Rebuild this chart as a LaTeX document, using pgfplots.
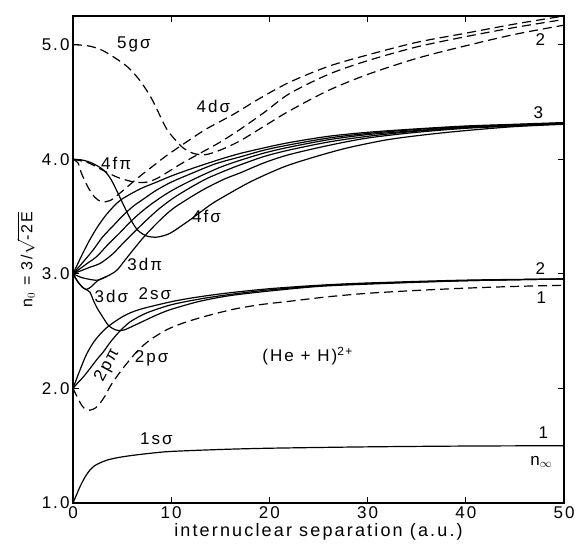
\documentclass[border=0pt]{standalone}
\usepackage{pgfplots}
\pgfplotsset{compat=1.18}
\usepackage{fontspec}
\setmainfont{Liberation Sans}[LetterSpace=12]
\newcommand{\lf}{\fontsize{17bp}{18bp}\selectfont}
\begin{document}
\begin{tikzpicture}
\useasboundingbox (-73bp,-45bp) rectangle (504bp,503bp);
\begin{axis}[at={(0,0)},anchor=south west, scale only axis,
 width=491bp, height=487bp,
 xmin=0, xmax=50, ymin=1, ymax=5.25,
 xtick={0,10,...,50}, ytick={1,2,3,4,5},
 xtick pos=both, ytick pos=both,
 y tick label style={/pgf/number format/.cd, fixed, fixed zerofill, precision=1, /tikz/.cd},
 /pgf/number format/assume math mode=true,
 tick align=inside, major tick length=6bp,
 tick style={line width=1bp, black},
 axis line style={line width=1.4bp},
 ticklabel style={font=\lf},
 xlabel={internuclear separation (a.u.)},
 xlabel style={font=\fontsize{18bp}{19bp}\selectfont, yshift=2bp},
 ylabel={n$_0$ = 3/$\sqrt{\mbox{-2E}}$},
 ylabel style={font=\fontsize{16bp}{17bp}\selectfont},
 cycle list={{black, solid, mark=none}},
 every axis plot/.append style={line width=1.2bp, black, smooth, mark=none},
 clip=false,
]
% 1s sigma
\addplot coordinates {(0,1.0)(0.35,1.07)(0.7,1.14)(1.05,1.2)(1.4,1.25)(1.75,1.29)(2.2,1.325)(2.75,1.35)(3.5,1.375)(4.5,1.395)(6,1.415)(8,1.435)(10,1.45)(15,1.467)(20,1.478)(30,1.49)(40,1.497)(50,1.50)};
% 2p sigma dashed
\addplot[dash pattern=on 9bp off 5bp] coordinates {(0,2.0)(0.35,1.94)(0.7,1.88)(1.1,1.83)(1.7,1.81)(2.3,1.83)(2.75,1.87)(3.3,1.94)(3.8,2.02)(4.6,2.12)(5.5,2.22)(6.6,2.33)(7.8,2.42)(9.5,2.51)(11.2,2.57)(13.5,2.63)(16.3,2.69)(19,2.73)(22,2.76)(26,2.80)(30,2.83)(35,2.855)(40,2.875)(45,2.89)(50,2.90)};
% 2s sigma
\addplot coordinates {(0,2.0)(0.35,2.08)(0.71,2.16)(1.39,2.30)(2.24,2.42)(3.43,2.53)(5.13,2.63)(6.82,2.69)(10.2,2.76)(12.9,2.80)(16,2.835)(20,2.87)(25,2.90)(30,2.92)(40,2.945)(50,2.955)};
% 2p pi
\addplot coordinates {(0,2.0)(0.5,2.05)(1.05,2.10)(1.7,2.17)(2.41,2.25)(3.1,2.32)(3.77,2.40)(4.45,2.47)(5.13,2.53)(5.8,2.58)(6.8,2.63)(7.84,2.67)(10,2.73)(12.9,2.78)(16,2.82)(20,2.86)(25,2.895)(30,2.915)(40,2.94)(50,2.955)};
% 3d sigma
\addplot coordinates {(0,3.0)(0.5,2.93)(1.0,2.88)(1.4,2.86)(1.73,2.84)(2.07,2.77)(2.4,2.71)(2.75,2.66)(3.2,2.60)(3.6,2.55)(4.1,2.52)(4.6,2.505)(5.2,2.51)(6,2.54)(7,2.58)(8.5,2.64)(10,2.69)(12.9,2.76)(16,2.81)(20,2.85)(25,2.89)(30,2.91)(40,2.94)(50,2.955)};
% loop curve
\addplot coordinates {(0,3.0)(0.5,2.93)(1.0,2.88)(1.4,2.865)(1.9,2.89)(2.5,2.94)(3.5,2.98)};
% 3d pi
\addplot coordinates {(0,3.0)(0.8,2.97)(1.5,2.955)(2.5,2.945)(3.5,2.98)(4.45,3.03)(5.3,3.12)(6.14,3.21)(7,3.30)(7.84,3.38)(9,3.48)(10.2,3.57)(12,3.67)(13.6,3.75)(15.5,3.83)(17,3.88)(19.5,3.97)(22,4.04)(26,4.12)(30,4.185)(35,4.235)(40,4.27)(45,4.29)(50,4.31)};
% rising from 3.0
\addplot coordinates {(0,3.0)(0.5,3.09)(1.0,3.18)(1.73,3.30)(2.5,3.41)(3.43,3.52)(4.79,3.64)(6.82,3.74)(8.5,3.80)(10.2,3.86)(12.5,3.93)(15,4.00)(17,4.05)(19.5,4.10)(22,4.145)(26,4.20)(30,4.235)(35,4.265)(40,4.29)(45,4.305)(50,4.32)};
\addplot coordinates {(0,3.0)(0.7,3.07)(1.4,3.14)(2.07,3.21)(3,3.32)(4.1,3.42)(5.1,3.51)(6.14,3.59)(7.3,3.66)(8.5,3.73)(10,3.80)(11.9,3.87)(14.5,3.96)(17,4.02)(19.5,4.08)(22,4.125)(26,4.185)(30,4.225)(35,4.26)(40,4.285)(45,4.30)(50,4.315)};
\addplot coordinates {(0,3.0)(0.8,3.05)(1.6,3.10)(2.41,3.15)(3.5,3.25)(4.79,3.36)(5.8,3.45)(6.82,3.53)(8,3.61)(9.54,3.70)(11,3.77)(12.9,3.85)(15,3.93)(17,3.99)(19.5,4.055)(22,4.105)(26,4.17)(30,4.215)(35,4.25)(40,4.28)(45,4.30)(50,4.315)};
\addplot coordinates {(0,3.0)(0.9,3.03)(1.8,3.06)(2.75,3.09)(4,3.17)(5.13,3.27)(6.3,3.37)(7.5,3.47)(8.8,3.57)(10.2,3.66)(11.9,3.75)(13.6,3.83)(15.5,3.90)(17,3.95)(19.5,4.025)(22,4.08)(26,4.15)(30,4.20)(35,4.245)(40,4.275)(45,4.295)(50,4.31)};
% 4f sigma
\addplot coordinates {(0,4.0)(0.8,3.995)(1.53,3.98)(2.2,3.955)(2.9,3.92)(3.4,3.88)(3.9,3.82)(4.6,3.70)(5.26,3.58)(5.9,3.47)(6.6,3.38)(7.5,3.33)(8.5,3.32)(9.5,3.34)(10.2,3.37)(11.9,3.47)(13,3.54)(14.3,3.62)(16.3,3.72)(18,3.80)(20,3.88)(22,3.95)(25,4.03)(28,4.10)(32,4.17)(36,4.215)(40,4.25)(45,4.285)(50,4.305)};
% 4d sigma dashed
\addplot[dash pattern=on 9bp off 5bp] coordinates {(0,4.0)(0.5,3.97)(0.85,3.88)(1.5,3.76)(2.2,3.67)(2.9,3.63)(3.8,3.64)(5,3.72)(6.5,3.83)(7.84,3.92)(9.5,4.03)(11.2,4.13)(13.5,4.26)(16.3,4.39)(19,4.53)(22,4.67)(26,4.81)(30,4.91)(35,5.02)(40,5.10)(45,5.18)(50,5.25)};
% 4f pi dashed
\addplot[dash pattern=on 9bp off 5bp] coordinates {(0,4.0)(1.53,3.97)(2.9,3.91)(4.6,3.84)(6.3,3.80)(7.5,3.80)(8.5,3.83)(9.5,3.88)(11,3.96)(12.9,4.05)(15,4.15)(17,4.26)(19.5,4.41)(22,4.57)(26,4.74)(30,4.86)(35,4.98)(40,5.07)(45,5.15)(50,5.22)};
% 5g sigma dashed
\addplot[dash pattern=on 9bp off 5bp] coordinates {(0,5.0)(1.5,4.99)(2.75,4.96)(4,4.90)(5.5,4.81)(6.5,4.72)(7.2,4.64)(8,4.53)(8.86,4.38)(9.5,4.27)(10.2,4.19)(11.2,4.10)(12.3,4.05)(13.5,4.04)(15,4.08)(17,4.16)(19.5,4.29)(22,4.42)(26,4.60)(30,4.74)(35,4.88)(40,4.99)(45,5.09)(50,5.17)};
% labels
\node[font=\lf] at (axis cs:6.2,5.0) {5gσ};
\node[font=\lf] at (axis cs:14.3,4.46) {4dσ};
\node[font=\lf] at (axis cs:4.4,3.96) {4fπ};
\node[font=\lf] at (axis cs:13.6,3.50) {4fσ};
\node[font=\lf] at (axis cs:7.3,3.08) {3dπ};
\node[font=\lf] at (axis cs:3.9,2.80) {3dσ};
\node[font=\lf] at (axis cs:8.35,2.83) {2sσ};
\node[font=\lf, rotate=62, inner sep=0pt] at (axis cs:3.5,2.2) {2pπ};
\node[font=\lf] at (axis cs:8.0,2.26) {2pσ};
\node[font=\lf] at (axis cs:8.5,1.56) {1sσ};
\node[font=\lf] at (axis cs:23.9,2.28) {(He + H)\textsuperscript{2+}};
\node[font=\lf] at (axis cs:47.6,5.04) {2};
\node[font=\lf] at (axis cs:47.4,4.41) {3};
\node[font=\lf] at (axis cs:47.6,3.05) {2};
\node[font=\lf] at (axis cs:47.7,2.79) {1};
\node[font=\lf] at (axis cs:47.9,1.61) {1};
\node[font=\lf] at (axis cs:47.7,1.36) {n$_\infty$};
\end{axis}
\end{tikzpicture}
\end{document}
